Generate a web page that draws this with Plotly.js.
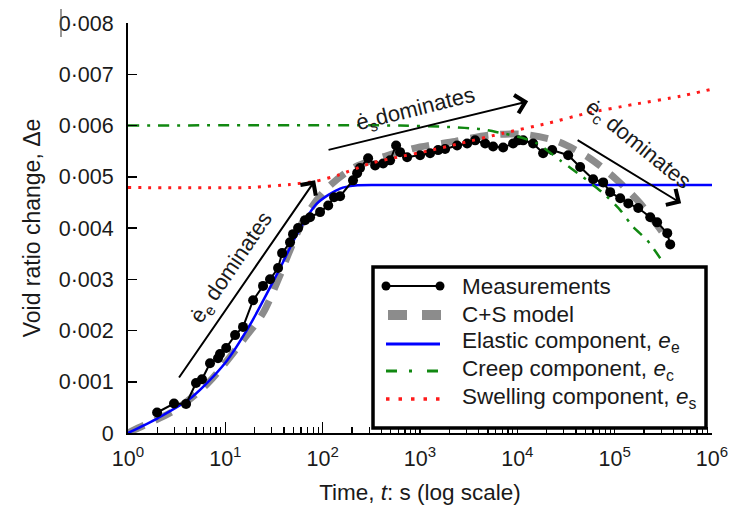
<!DOCTYPE html>
<html>
<head>
<meta charset="utf-8">
<script src="https://cdn.plot.ly/plotly-3.0.1.min.js"></script>
<style>
html,body{margin:0;padding:0;background:#fff;}
#chart{width:730px;height:508px;}
</style>
</head>
<body>
<div id="chart"></div>
<script>
// ---- Data ----
const measT = [1.99, 2.97, 3.95, 5.0, 5.76, 6.96, 8.41, 8.82, 10.2, 12.6, 15.2, 19.3, 24.4, 28.8, 34.8, 38.3, 46.2, 49.6, 55.9, 65.9, 74.2, 94, 114, 131, 151, 205, 226, 242, 293, 346, 418, 493, 568, 624, 737, 1002, 1270, 1535, 1811, 2405, 3050, 3685, 4670, 5640, 7150, 9050, 10190, 11470, 14530, 18400, 22800, 33300, 44200, 60100, 76200, 89900, 114000, 138000, 174600, 232000, 273000, 347000, 372000];
const measE = [0.00040, 0.000575, 0.000565, 0.000975, 0.00105, 0.00136, 0.00146, 0.00154, 0.00166, 0.00191, 0.00207, 0.00259, 0.00287, 0.00300, 0.00322, 0.00351, 0.00372, 0.00388, 0.00400, 0.00415, 0.00421, 0.00431, 0.00444, 0.00460, 0.00462, 0.00493, 0.00507, 0.00517, 0.00536, 0.00522, 0.00526, 0.00532, 0.00561, 0.00548, 0.00538, 0.00542, 0.00546, 0.00552, 0.00554, 0.00561, 0.00565, 0.00571, 0.00565, 0.00559, 0.00557, 0.00565, 0.00571, 0.00571, 0.00565, 0.00546, 0.00552, 0.00542, 0.00519, 0.00495, 0.00489, 0.00470, 0.00458, 0.00448, 0.00439, 0.00421, 0.00411, 0.00390, 0.00368];

const csT = [1, 1.27, 3.04, 6.64, 15.2, 24.4, 36.5, 46.2, 65.9, 106, 205, 438, 1002, 2295, 5010, 11470, 25700, 53400, 101000, 183000, 355000];
const csE = [0, 0.0000975, 0.000448, 0.000975, 0.00181, 0.00234, 0.00308, 0.00357, 0.00421, 0.00474, 0.00517, 0.00540, 0.00558, 0.00569, 0.00581, 0.00583, 0.00569, 0.00538, 0.00497, 0.00448, 0.00376];

const elT = [1, 2.03, 4.55, 9.9, 17.9, 34.8, 55.9, 87.5, 151, 215, 389, 1e6];
const elE = [0, 0.000292, 0.000702, 0.00136, 0.00211, 0.00314, 0.00392, 0.00448, 0.00477, 0.00483, 0.00484, 0.00484];

const crT = [1, 624, 2040, 4150, 6200, 10700, 16000, 27500, 47400, 76200, 114000, 155000, 216000, 294000];
const crE = [0.0060, 0.0060, 0.00597, 0.00593, 0.00587, 0.00577, 0.00565, 0.00532, 0.00499, 0.00468, 0.00435, 0.00402, 0.00376, 0.00341];

const swT = [1, 17.9, 46.2, 83.5, 144, 307, 582, 1183, 2580, 7150, 20200, 52100, 155000, 471000, 1e6];
const swE = [0.00479, 0.00479, 0.00485, 0.00491, 0.00503, 0.00526, 0.00538, 0.00550, 0.00565, 0.00585, 0.00604, 0.00624, 0.00641, 0.00657, 0.00671];

const yTickVals = [0, 0.001, 0.002, 0.003, 0.004, 0.005, 0.006, 0.007, 0.008];
const yTickText = ['0', '0·001', '0·002', '0·003', '0·004', '0·005', '0·006', '0·007', '0·008'];
const xTickVals = [1, 10, 100, 1000, 10000, 100000, 1000000];
const xTickText = ['10<sup>0</sup>', '10<sup>1</sup>', '10<sup>2</sup>', '10<sup>3</sup>', '10<sup>4</sup>', '10<sup>5</sup>', '10<sup>6</sup>'];

const names = ['Measurements', 'C+S model', 'Elastic component, <i>e</i><sub>e</sub>', 'Creep component, <i>e</i><sub>c</sub>', 'Swelling component, <i>e</i><sub>s</sub>'];

// ---- styling ----
const COL = {meas: '#000000', cs: '#8c8c8c', el: '#0000ff', cr: '#118811', sw: '#ff1a1a'};
const DASH = {cs: '18px,12px', cr: '11px,8px,3px,8px', sw: '3px,7px'};

// minor ticks 2..9 per decade
const minorVals = [];
for (let d = 0; d < 6; d++) for (let k = 2; k <= 9; k++) minorVals.push(k * Math.pow(10, d));

const FONT = '"Liberation Sans", Arial, sans-serif';
const TXT = '#1a1a1a';

// plot area geometry (px) for paper-coordinate helpers
const M = {l: 128, r: 18, t: 23, b: 75};
const PW = 730 - M.l - M.r, PH = 508 - M.t - M.b;
const px = v => (v - M.l) / PW;
const py = v => (508 - M.b - v) / PH;

const traces = [
  {x: csT, y: csE, name: names[1], mode: 'lines', line: {color: COL.cs, width: 7, dash: DASH.cs, shape: 'spline', smoothing: 0.8}},
  {x: elT, y: elE, name: names[2], mode: 'lines', line: {color: COL.el, width: 2.5, shape: 'spline', smoothing: 0.8}},
  {x: measT, y: measE, name: names[0], mode: 'lines+markers', line: {color: COL.meas, width: 2}, marker: {color: COL.meas, size: 10}},
  {x: crT, y: crE, name: names[3], mode: 'lines', line: {color: COL.cr, width: 2.5, dash: DASH.cr, shape: 'spline', smoothing: 0.6}},
  {x: swT, y: swE, name: names[4], mode: 'lines', line: {color: COL.sw, width: 3, dash: DASH.sw, shape: 'spline', smoothing: 0.6}}
];

const annFont = {family: FONT, size: 22, color: TXT};
const arrow = (x, y, ax, ay) => ({xref: 'x', yref: 'y', axref: 'x', ayref: 'y', x, y, ax, ay, showarrow: true, arrowhead: 4, arrowsize: 1.8, arrowwidth: 2, arrowcolor: '#000', text: ''});
const annotations = [
  arrow(1.922, 0.00493, 0.514, 0.001053),
  arrow(4.111, 0.006472, 2.045, 0.005517),
  arrow(5.683, 0.004483, 4.604, 0.005731),
  {xref: 'x', yref: 'y', x: 1.069, y: 0.003216, text: 'ė<sub>e</sub> dominates', showarrow: false, textangle: -56, font: annFont},
  {xref: 'x', yref: 'y', x: 2.95, y: 0.0063, text: 'ė<sub>s</sub>dominates', showarrow: false, textangle: -14, font: annFont},
  {xref: 'x', yref: 'y', x: 5.235, y: 0.00562, text: 'ė<sub>c</sub> dominates', showarrow: false, textangle: 39, font: annFont}
];

// ---- hand-drawn legend (matches the boxed legend of the reference) ----
const legFont = {family: FONT, size: 22.5, color: TXT};
const rowY = [286, 314, 342, 370, 398];
const symX0 = 386, symX1 = 440, textX = 460;
const shapes = [
  {type: 'line', xref: 'paper', yref: 'paper', x0: px(61), x1: px(61), y0: py(9), y1: py(37), line: {color: '#555', width: 1.2}},
  {type: 'rect', xref: 'paper', yref: 'paper', layer: 'above', x0: px(373), x1: px(706), y0: py(267), y1: py(428), fillcolor: '#fff', line: {color: '#000', width: 3.5}},
  // Measurements: line with end dots
  {type: 'line', xref: 'paper', yref: 'paper', layer: 'above', x0: px(symX0), x1: px(symX1), y0: py(rowY[0]), y1: py(rowY[0]), line: {color: COL.meas, width: 2}},
  {type: 'circle', xref: 'paper', yref: 'paper', layer: 'above', x0: px(symX0 - 4.5), x1: px(symX0 + 4.5), y0: py(rowY[0] + 4.5), y1: py(rowY[0] - 4.5), fillcolor: COL.meas, line: {width: 0}},
  {type: 'circle', xref: 'paper', yref: 'paper', layer: 'above', x0: px(symX1 - 4.5), x1: px(symX1 + 4.5), y0: py(rowY[0] + 4.5), y1: py(rowY[0] - 4.5), fillcolor: COL.meas, line: {width: 0}},
  // C+S model
  {type: 'line', xref: 'paper', yref: 'paper', layer: 'above', x0: px(388), x1: px(441), y0: py(rowY[1] + 1), y1: py(rowY[1] + 1), line: {color: COL.cs, width: 10, dash: '19px,15px'}},
  // Elastic
  {type: 'line', xref: 'paper', yref: 'paper', layer: 'above', x0: px(symX0), x1: px(symX1), y0: py(rowY[2] + 2), y1: py(rowY[2] + 2), line: {color: COL.el, width: 3}},
  // Creep
  {type: 'line', xref: 'paper', yref: 'paper', layer: 'above', x0: px(symX0), x1: px(symX1), y0: py(rowY[3] + 1), y1: py(rowY[3] + 1), line: {color: COL.cr, width: 3, dash: '11px,12px,3px,15px,11px'}},
  // Swelling
  {type: 'line', xref: 'paper', yref: 'paper', layer: 'above', x0: px(symX0), x1: px(symX1 + 2), y0: py(rowY[4] + 1), y1: py(rowY[4] + 1), line: {color: COL.sw, width: 3.5, dash: '3.5px,9px'}}
];
names.forEach((n, i) => {
  annotations.push({xref: 'paper', yref: 'paper', x: px(textX), y: py(rowY[i]), xanchor: 'left', yanchor: 'middle', text: n, showarrow: false, font: legFont});
});

const layout = {
  width: 730, height: 508,
  margin: M,
  paper_bgcolor: '#fff', plot_bgcolor: '#fff',
  font: {family: FONT, size: 21, color: TXT},
  showlegend: false,
  xaxis: {
    type: 'log', range: [0, 6],
    tickmode: 'array', tickvals: xTickVals, ticktext: xTickText,
    ticks: 'inside', ticklen: 11, tickwidth: 1.5, tickcolor: '#000',
    minor: {tickmode: 'array', tickvals: minorVals, ticks: 'inside', ticklen: 6, tickwidth: 1.2, tickcolor: '#000'},
    showline: true, linecolor: '#000', linewidth: 2, mirror: false,
    showgrid: false, zeroline: false,
    ticklabelstandoff: 5,
    tickfont: {family: FONT, size: 21.5, color: TXT},
    title: {text: 'Time, <i>t</i>: s (log scale)', font: {family: FONT, size: 22.5, color: TXT}, standoff: 14}
  },
  yaxis: {
    range: [0, 0.008],
    tickmode: 'array', tickvals: yTickVals, ticktext: yTickText,
    ticks: 'inside', ticklen: 9, tickwidth: 1.5, tickcolor: '#000',
    showline: true, linecolor: '#000', linewidth: 2, mirror: false,
    showgrid: false, zeroline: false,
    ticklabelstandoff: 8,
    tickfont: {family: FONT, size: 21.5, color: TXT},
    title: {text: 'Void ratio change, Δe', font: {family: FONT, size: 23, color: TXT}, standoff: 12}
  },
  annotations: annotations,
  shapes: shapes
};

Plotly.newPlot('chart', traces, layout, {staticPlot: true, displayModeBar: false});
</script>
</body>
</html>
